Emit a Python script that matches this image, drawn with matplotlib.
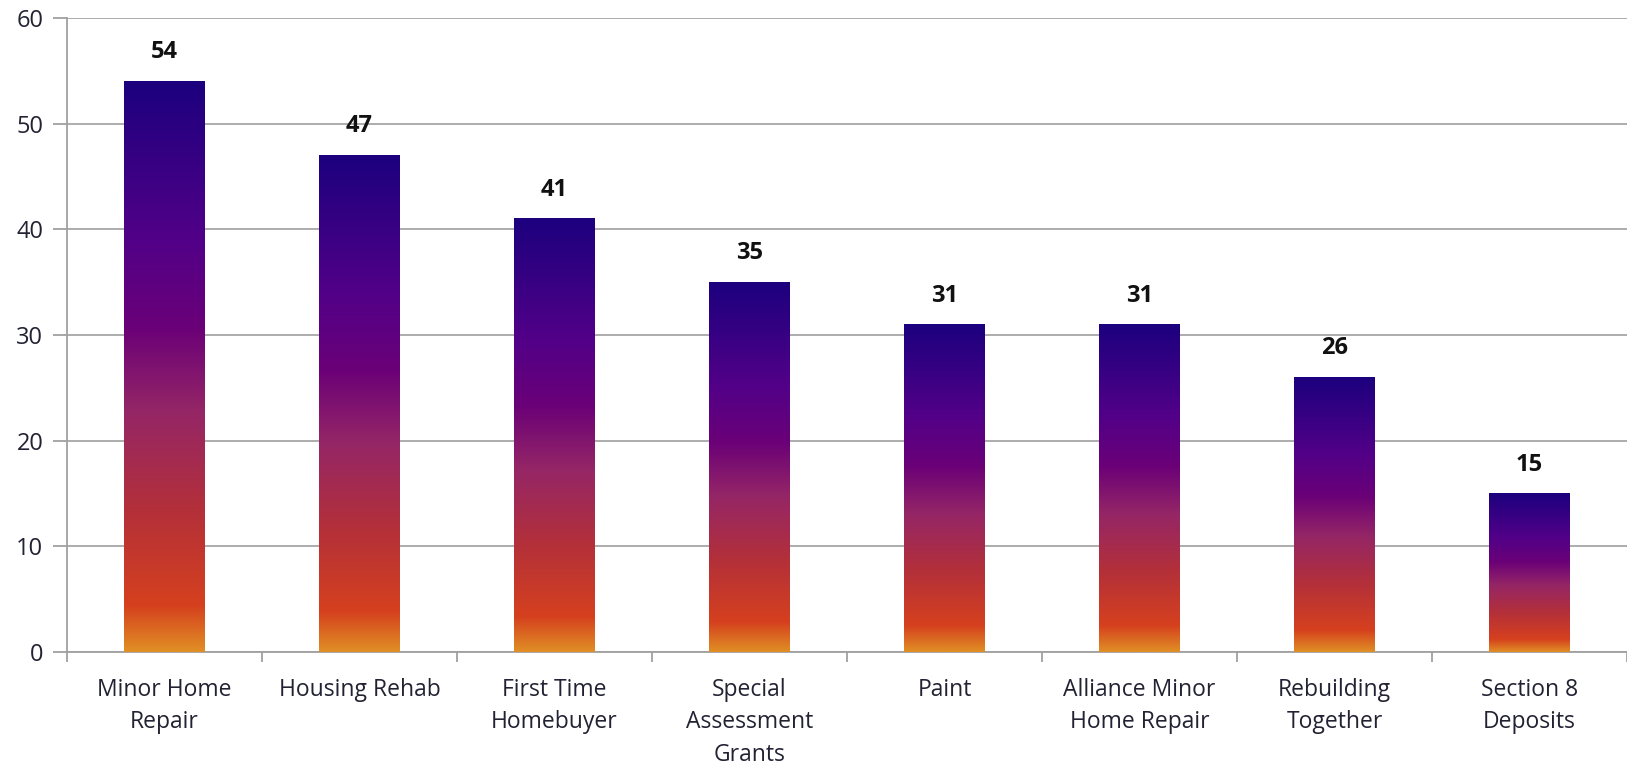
import numpy as np
import matplotlib.pyplot as plt
from matplotlib.colors import LinearSegmentedColormap

categories = ["Minor Home\nRepair", "Housing Rehab", "First Time\nHomebuyer",
              "Special\nAssessment\nGrants", "Paint", "Alliance Minor\nHome Repair",
              "Rebuilding\nTogether", "Section 8\nDeposits"]
values = [54, 47, 41, 35, 31, 31, 26, 15]
yticks = [0, 10, 20, 30, 40, 50, 60]

# bottom -> top gradient of each bar
grad = LinearSegmentedColormap.from_list("bar", [
    (0.00, "#E08E25"),
    (0.08, "#D5401E"),
    (0.25, "#B3303A"),
    (0.42, "#952666"),
    (0.57, "#6A0078"),
    (0.72, "#520088"),
    (1.00, "#1C007E"),
])

plt.rcParams['font.family'] = ['Open Sans', 'DejaVu Sans']

fig = plt.figure(figsize=(16.27, 7.66), dpi=100)
ax = fig.add_axes([67 / 1627, 1 - 652 / 766, 1 - 67 / 1627, (652 - 18) / 766])

x = np.arange(len(categories))
width = 0.415
bars = ax.bar(x, values, width, color="none", edgecolor="none", zorder=3)
g = np.linspace(0, 1, 256).reshape(-1, 1)
for b in bars:
    x0, h = b.get_x(), b.get_height()
    ax.imshow(g, cmap=grad, origin="lower", aspect="auto",
              extent=(x0, x0 + b.get_width(), 0, h), zorder=3)

for xi, v in zip(x, values):
    ax.text(xi, v + 1.6, str(v), ha="center", va="bottom", fontsize=17,
            fontweight="bold", color="#111111", zorder=4)

ax.set_xlim(-0.5, len(categories) - 0.5)
ax.set_ylim(0, 60)
ax.set_yticks(yticks)
ax.set_yticklabels([str(t) for t in yticks], fontsize=17, color="#222233")
ax.yaxis.grid(True, color="#A6A6A6", linewidth=1.3, zorder=0)
ax.set_axisbelow(True)

ax.set_xticks(x)
ax.set_xticklabels(categories, fontsize=16.5, color="#222233", linespacing=1.45)
ax.set_xticks(np.arange(len(categories) + 1) - 0.5, minor=True)
ax.tick_params(axis="x", which="major", length=0, pad=19)
ax.tick_params(axis="x", which="minor", length=7, color="#A0A0A0", width=1.3)
ax.tick_params(axis="y", length=10, color="#A0A0A0", width=1.3, pad=7)

for s in ["top", "right"]:
    ax.spines[s].set_visible(False)
for s in ["left", "bottom"]:
    ax.spines[s].set_color("#A0A0A0")
    ax.spines[s].set_linewidth(1.3)

fig.savefig("out.png", dpi=100)
